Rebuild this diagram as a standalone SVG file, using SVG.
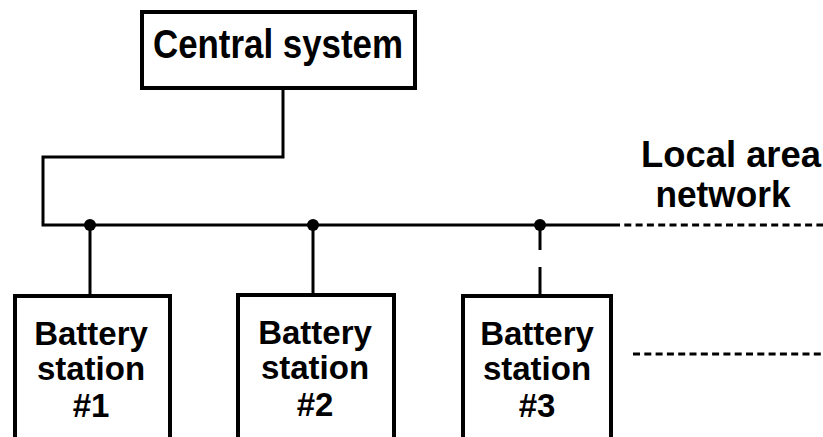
<svg xmlns="http://www.w3.org/2000/svg" width="823" height="437" viewBox="0 0 823 437">
<style>
.box{fill:#fff;stroke:#000;stroke-width:4}
.ln{fill:none;stroke:#000;stroke-width:3}
.dash{fill:none;stroke:#000;stroke-width:3;stroke-dasharray:7 4.3}
.t{font-family:"Liberation Sans",Arial,sans-serif;font-weight:bold;fill:#000;text-anchor:middle}
.dot{fill:#000}
</style>
<rect width="823" height="437" fill="#fff"/>
<g id="connectors">
<polyline class="ln" points="283,90 283,157 43,157 43,225 613,225"/>
<line class="dash" x1="613" y1="225" x2="823" y2="225"/>
<line class="ln" x1="90" y1="225" x2="90" y2="294"/>
<line class="ln" x1="313" y1="225" x2="313" y2="293"/>
<line class="ln" x1="540" y1="225" x2="540" y2="250"/>
<line class="ln" x1="540" y1="267" x2="540" y2="294"/>
<line class="dash" x1="633" y1="354" x2="823" y2="354"/>
<circle class="dot" cx="90" cy="225" r="6"/>
<circle class="dot" cx="313" cy="225" r="6"/>
<circle class="dot" cx="540" cy="225" r="6"/>
</g>
<g id="central">
<rect class="box" x="142" y="12" width="273" height="76"/>
<text class="t" x="278" y="58" font-size="40" textLength="250" lengthAdjust="spacingAndGlyphs">Central system</text>
</g>
<g id="lan-label">
<text class="t" x="731" y="167" font-size="36" textLength="180" lengthAdjust="spacingAndGlyphs">Local area</text>
<text class="t" x="723" y="207" font-size="36" textLength="135" lengthAdjust="spacingAndGlyphs">network</text>
</g>
<g id="station1">
<rect class="box" x="15" y="296" width="155" height="150"/>
<text class="t" x="91" y="345" font-size="33">Battery</text>
<text class="t" x="91" y="380" font-size="33">station</text>
<text class="t" x="91" y="417" font-size="33">#1</text>
</g>
<g id="station2">
<rect class="box" x="238" y="295" width="156" height="150"/>
<text class="t" x="315" y="344" font-size="33">Battery</text>
<text class="t" x="315" y="379" font-size="33">station</text>
<text class="t" x="315" y="416" font-size="33">#2</text>
</g>
<g id="station3">
<rect class="box" x="463" y="296" width="148" height="150"/>
<text class="t" x="537" y="345" font-size="33">Battery</text>
<text class="t" x="537" y="380" font-size="33">station</text>
<text class="t" x="537" y="417" font-size="33">#3</text>
</g>
</svg>
